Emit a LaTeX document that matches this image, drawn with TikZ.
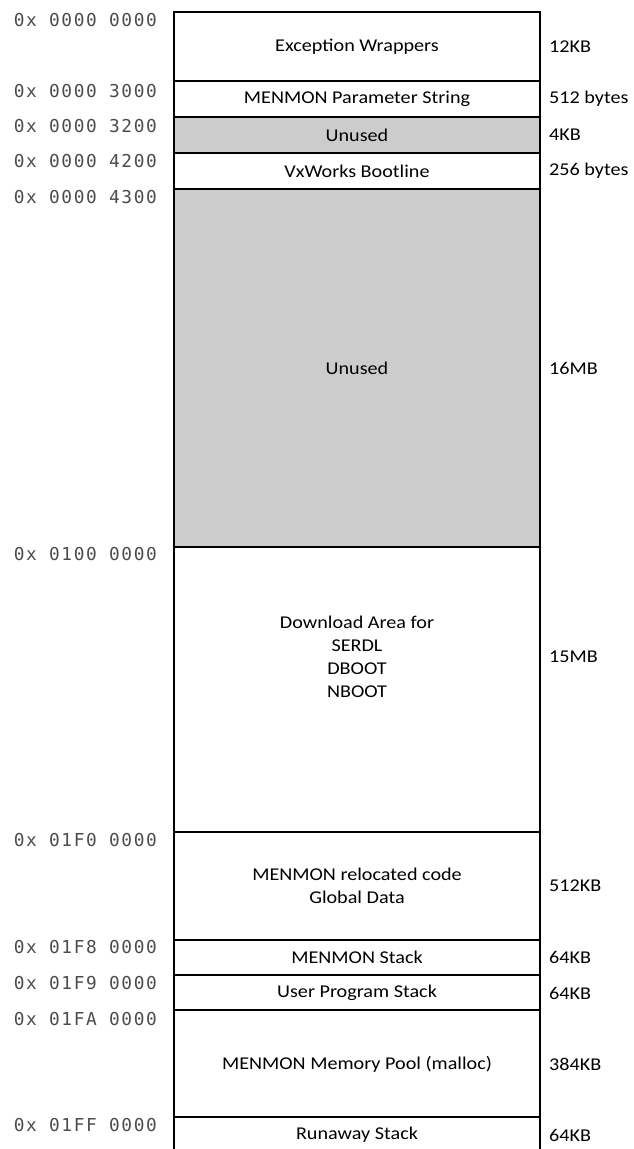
\documentclass[tikz,border=0pt]{standalone}
\usepackage{fontspec}
\setmainfont{Carlito}[FakeStretch=1.12]
\newfontfamily\addrfont[LetterSpace=9]{DejaVu Sans Mono}
\definecolor{unusedgray}{HTML}{CCCCCC}
\begin{document}
\begin{tikzpicture}[x=1pt,y=-1pt,
  region/.style={draw=black, line width=1.3pt},
  freeregion/.style={region, fill=unusedgray},
  label/.style={font=\fontsize{18}{23}\selectfont, align=center, inner sep=0pt},
  size/.style={font=\fontsize{18}{23}\selectfont, anchor=west, inner sep=0pt},
  addr/.style={font=\addrfont\fontsize{17.8}{20}\selectfont, text=black!70, anchor=east, inner sep=0pt}]
\useasboundingbox (0,0) rectangle (633,1149);
% regions
\draw[region] (174,12) rectangle (540,81);
\draw[region] (174,81) rectangle (540,117);
\draw[freeregion] (174,117) rectangle (540,153);
\draw[region] (174,153) rectangle (540,189);
\draw[freeregion] (174,189) rectangle (540,547);
\draw[region] (174,547) rectangle (540,832);
\draw[region] (174,832) rectangle (540,940);
\draw[region] (174,940) rectangle (540,975);
\draw[region] (174,975) rectangle (540,1010);
\draw[region] (174,1010) rectangle (540,1117);
\draw[region] (174,1160) -- (174,1117) -- (540,1117) -- (540,1160);
% region labels
\node[label] (l1) at (357,47) {Exception Wrappers};
\node[label] (l2) at (357,99) {MENMON Parameter String};
\node[label] (l3) at (357,135) {Unused};
\node[label] (l4) at (357,171) {VxWorks Bootline};
\node[label] (l5) at (357,368) {Unused};
\node[label] (l6) at (357,657) {Download Area for\\SERDL\\DBOOT\\NBOOT};
\node[label] (l7) at (357,886) {MENMON relocated code\\Global Data};
\node[label] (l8) at (357,957) {MENMON Stack};
\node[label] (l9) at (357,993) {User Program Stack};
\node[label] (l10) at (357,1064) {MENMON Memory Pool (malloc)};
\node[label] (l11) at (357,1135) {Runaway Stack};
% sizes
\node[size] (s1) at (549,47) {12KB};
\node[size] (s2) at (549,99) {512 bytes};
\node[size] (s3) at (549,135) {4KB};
\node[size] (s4) at (549,171) {256 bytes};
\node[size] (s5) at (549,368) {16MB};
\node[size] (s6) at (549,657) {15MB};
\node[size] (s7) at (549,886) {512KB};
\node[size] (s8) at (549,957) {64KB};
\node[size] (s9) at (549,993) {64KB};
\node[size] (s10) at (549,1064) {384KB};
\node[size] (s11) at (549,1135) {64KB};
% addresses
\node[addr] (a1) at (157,20) {0x 0000 0000};
\node[addr] (a2) at (157,91) {0x 0000 3000};
\node[addr] (a3) at (157,126) {0x 0000 3200};
\node[addr] (a4) at (157,161) {0x 0000 4200};
\node[addr] (a5) at (157,197) {0x 0000 4300};
\node[addr] (a6) at (157,554) {0x 0100 0000};
\node[addr] (a7) at (157,840) {0x 01F0 0000};
\node[addr] (a8) at (157,947) {0x 01F8 0000};
\node[addr] (a9) at (157,983) {0x 01F9 0000};
\node[addr] (a10) at (157,1019) {0x 01FA 0000};
\node[addr] (a11) at (157,1125) {0x 01FF 0000};
\end{tikzpicture}
\end{document}
